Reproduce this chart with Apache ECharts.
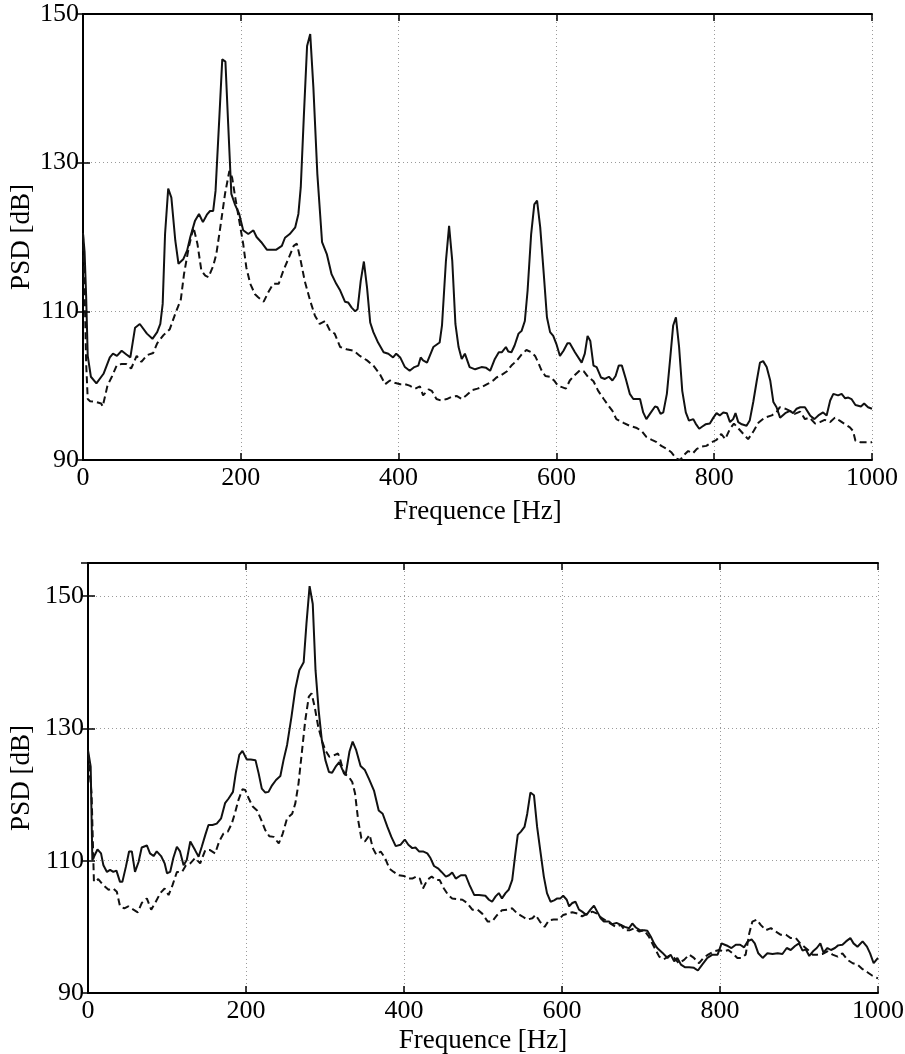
<!DOCTYPE html>
<html>
<head>
<meta charset="utf-8">
<title>PSD</title>
<script src="https://cdn.jsdelivr.net/npm/echarts@6/dist/echarts.min.js"></script>
<style>
    html, body { margin: 0; padding: 0; background: #fff; }
    #chart { width: 905px; height: 1054px; }
</style>
</head>
<body>
<div id="chart"></div>
<script>
/*==================== 数据 ====================*/
// 上图 - 实线
var topSolidF = [0, 2, 4, 6, 10, 17, 26, 34, 38, 43, 49, 55, 60, 66, 72, 81, 88, 94, 98, 101, 104, 108, 112, 117, 121, 127, 132, 136, 142, 147, 152, 157, 161, 165, 168, 173, 176.5, 180.5, 184, 188, 192.5, 198, 203, 209.5, 216, 220, 226, 233, 239, 245, 252, 256, 262, 269, 273, 276, 280, 284, 288, 292, 297, 303, 309, 315, 321, 326, 332, 336, 340.5, 345, 348, 352, 356, 360, 364, 368, 374, 381, 387, 393, 397, 402, 408, 414, 420, 425, 428, 431, 436, 444, 452, 455, 460, 464, 468, 472, 476, 480, 484, 490, 497, 505, 511, 516, 522, 527, 531, 536, 539, 543, 547, 552, 556, 560, 563.5, 568, 572, 575.5, 579.5, 584, 588, 592, 596, 600, 604.5, 609, 614, 617, 623.5, 632, 636, 639.5, 643, 647, 651, 656.5, 661.5, 666.5, 671, 675, 679, 683, 688, 693, 697.5, 706, 710, 714, 718.5, 725, 728, 732, 735.5, 740, 744, 748, 751.5, 755.5, 759.5, 764, 768, 773.5, 776.5, 781, 785, 789, 794.5, 799, 803, 807, 811.5, 816, 820, 824, 827, 830.5, 835, 841, 845, 849.5, 854, 858, 862, 866.5, 871, 875, 879, 883.5, 890, 896, 900, 904.5, 909, 915, 921.5, 927, 932, 938, 942.5, 947, 951, 957, 961.5, 966, 970, 974, 979, 986, 990, 995, 1000];
var topSolidDb = [120.5, 118, 112, 104, 101.2, 100.3, 101.6, 103.8, 104.3, 104, 104.7, 104.2, 103.8, 107.8, 108.3, 107, 106.3, 107.2, 108.3, 111, 120.4, 126.5, 125.3, 119.5, 116.4, 117, 118.2, 120, 122.2, 123.1, 122, 123, 123.5, 123.5, 126.2, 136.5, 143.9, 143.6, 135.2, 125.8, 124.4, 123.1, 120.9, 120.4, 120.9, 120, 119.3, 118.3, 118.3, 118.3, 118.8, 119.9, 120.4, 121.3, 123.1, 126.7, 136.5, 145.7, 147.3, 140.1, 128.5, 119.3, 117.7, 115, 113.7, 112.8, 111.3, 111.2, 110.5, 110, 110.3, 114.1, 116.7, 113.2, 108.5, 107.2, 105.8, 104.5, 104.3, 103.8, 104.3, 103.8, 102.5, 102, 102.5, 102.7, 103.8, 103.4, 103.1, 105.2, 105.8, 108.1, 116.8, 121.5, 116.8, 108.3, 105.2, 103.6, 104.3, 102.5, 102.2, 102.5, 102.4, 102, 103.6, 104.5, 104.5, 105.2, 104.6, 104.5, 105.4, 107, 107.4, 108.7, 112.8, 120.4, 124.4, 124.9, 121.3, 115, 109.2, 107.2, 106.7, 105.6, 104, 104.7, 105.7, 105.7, 104.5, 103.1, 104.3, 106.7, 106, 102.7, 102.5, 101.1, 100.9, 101.2, 100.7, 101.3, 102.7, 102.7, 100.9, 98.9, 98.2, 98.2, 96.4, 95.5, 96.2, 97.2, 97.1, 96.2, 96.4, 98.9, 103.4, 108.1, 109.2, 105.2, 99.3, 96.4, 95.3, 95.5, 94.9, 94.2, 94.5, 94.8, 94.9, 95.7, 96.3, 96, 96.4, 96.3, 95.1, 95.5, 96.3, 95.1, 94.8, 94.6, 95.3, 97.8, 100.7, 103.1, 103.3, 102.5, 100.7, 97.8, 97.1, 95.7, 96.3, 96.6, 96.3, 96.9, 97.1, 97.1, 96, 95.5, 96, 96.4, 96, 98, 98.9, 98.7, 98.9, 98.3, 98.4, 98.2, 97.4, 97.2, 97.6, 97.1, 96.9];

// 上图 - 虚线
var topDashF = [0, 2, 4, 6, 9, 17, 23, 25, 31, 37, 43, 49, 55, 61, 68, 74, 81, 89, 94, 102, 110, 117, 124, 128, 134, 140, 145, 150, 155, 159, 165, 169, 174, 180, 185.5, 189, 193, 198, 203, 207, 212, 218, 222, 229, 235, 241, 248, 254, 260, 267, 271, 275, 281, 288, 294, 300, 307, 313, 319, 326, 334, 343, 351, 360, 368, 376, 383, 389, 395, 402, 408, 414, 421, 427, 431, 438, 442, 448, 454, 461, 467, 474, 480, 486, 493, 500, 505, 514, 520, 524, 530, 537, 543, 550, 556, 562, 568, 573, 577, 581, 586, 592, 597, 602, 607, 612, 617, 623, 630, 635, 640, 647, 653, 660, 666, 671, 676, 685, 693, 702, 708, 714, 721, 727, 733, 740, 746, 752, 757, 761, 767, 773, 778, 784, 790, 797, 803, 809, 814, 820, 825, 831, 837, 843, 850, 856, 864, 873, 879, 883, 890, 896, 902, 909, 915, 921, 928, 934, 940, 947, 953, 959, 966, 972, 976, 979, 985, 991, 1000];
var topDashDb = [120.5, 113, 103, 98.2, 97.9, 97.8, 97.6, 97.2, 100, 101.3, 102.8, 102.9, 102.9, 102.3, 104, 103.2, 104.1, 104.4, 105.7, 106.8, 107.6, 109.7, 111.6, 115, 118.6, 121.3, 119.1, 115.5, 114.8, 114.6, 116.1, 117.7, 121.3, 125.8, 128.9, 128, 125.3, 122.2, 119.1, 115.9, 113.7, 112.3, 111.9, 111.3, 112.6, 113.7, 113.7, 115.5, 117, 118.8, 119.1, 117.3, 114.1, 111.4, 109.4, 108.3, 108.7, 107.4, 107, 105.2, 104.9, 104.7, 104, 103.4, 102.7, 101.6, 100.2, 100.7, 100.4, 100.2, 100.2, 100, 99.6, 99.9, 98.7, 99.5, 99.3, 98.2, 98, 98.2, 98.5, 98.6, 98.2, 98.7, 99.4, 99.6, 99.8, 100.3, 100.7, 101.1, 101.4, 101.9, 102.7, 103.4, 104.2, 104.8, 104.5, 104, 103.1, 102.1, 101.3, 101.2, 100.7, 100, 99.8, 99.6, 100.7, 101.4, 102.1, 101.9, 101.2, 100.6, 99.3, 98.2, 97.3, 96.6, 95.5, 95, 94.6, 94.3, 93.9, 93.1, 92.7, 92.4, 91.9, 91.5, 91, 90.2, 90, 90.6, 91.2, 90.9, 91.5, 91.8, 91.9, 92.4, 92.7, 93.5, 92.8, 94.2, 94.9, 94.2, 93.5, 92.8, 93.9, 95, 95.7, 96, 96.4, 97.1, 96.9, 96.6, 96.2, 96.5, 95.5, 95.7, 94.9, 95.1, 95.4, 95.1, 95.7, 95.3, 94.8, 94.4, 93.9, 92.6, 92.4, 92.4, 92.4];

// 下图 - 实线
var botSolidF = [0, 3.4, 5.5, 8, 12, 16.5, 19.5, 24, 28, 32, 36, 40.5, 43.5, 48, 52, 55.5, 59.5, 64, 68, 74.5, 78.5, 83, 87, 92.5, 97, 100, 104, 108, 112.5, 116.5, 121, 125, 129.5, 132, 135.5, 140, 144, 148.5, 152.5, 157.5, 163, 168.5, 173.5, 178, 183.5, 187, 191.5, 195.5, 201, 206, 212, 216, 220, 224.5, 228.5, 233, 238, 243.5, 247.5, 252, 257.5, 262.5, 267.5, 273, 276.5, 280.5, 284.5, 288, 292, 296, 300.5, 305, 309, 314, 318, 321.5, 326, 331, 335, 339.5, 345, 350.5, 355.5, 362, 368, 373, 379, 384, 389.5, 395.5, 401, 405.5, 410.5, 414.5, 419, 424, 429.5, 433.5, 438, 443.5, 447.5, 453, 457, 461, 465.5, 472, 478, 483, 489, 495, 503, 507.5, 511.5, 516, 520, 524, 528.5, 532.5, 537, 541, 544, 548, 552.5, 556, 560, 564.5, 568.5, 573, 577, 581, 585.5, 590, 594, 598, 601.5, 606, 609, 613, 617, 621.5, 625.5, 631, 636, 640.5, 644.5, 649, 653, 659.5, 663.5, 669, 674.5, 679.5, 685, 689, 693.5, 698.5, 704, 708, 712.5, 716.5, 720.5, 727, 733.5, 737.5, 742, 746, 750.5, 755.5, 761, 767, 772, 777.5, 784, 790.5, 797, 802, 806, 810, 814.5, 820, 825.5, 830.5, 835, 840, 844, 848.5, 854, 860, 866.5, 873, 879, 884.5, 889.5, 895, 900, 904.5, 908.5, 913, 918.5, 922.5, 927, 931, 936, 940.5, 945.5, 949.5, 955, 959.5, 965, 969, 974, 980.5, 986, 990, 994.5, 1000];
var botSolidDb = [126.7, 124.2, 110.1, 109.8, 111.7, 111.1, 109.3, 108.3, 108.6, 108.3, 108.5, 106.8, 106.8, 109.1, 111.4, 111.4, 108.3, 109.8, 112, 112.3, 111.1, 110.7, 111.4, 110.7, 109.6, 108.1, 108.3, 110.4, 112.1, 111.4, 109.3, 110.1, 112.9, 113.2, 111.6, 110.6, 112.1, 113.9, 115.4, 115.4, 115.6, 116.4, 118.7, 119.4, 120.4, 123.2, 126, 126.6, 125.3, 125.3, 125.2, 123.2, 120.9, 120.3, 120.4, 121.4, 122.2, 122.8, 125.2, 127.5, 131.7, 136, 138.8, 140, 145.8, 151.5, 148.8, 138.8, 132.7, 128.2, 125.2, 123.4, 123.3, 124.3, 124.9, 123.9, 122.9, 126.5, 128, 126.7, 124.3, 123.7, 122.4, 120.6, 117.6, 117.1, 115.1, 113.6, 112.2, 112.4, 113.2, 112.4, 111.9, 112, 111.4, 111.4, 111.1, 110.4, 109.2, 108.8, 108.3, 107.6, 107.8, 108.2, 107.3, 107.8, 107.8, 106.3, 104.8, 104.8, 104.7, 104.1, 103.8, 104.6, 105.1, 104.3, 105.1, 105.6, 107.1, 111.1, 113.9, 114.4, 115.1, 117.1, 120.3, 119.9, 115.1, 111.1, 107.6, 105.1, 103.8, 104, 104.3, 104.3, 104.7, 104.1, 103.1, 103.6, 103.8, 102.6, 102.3, 101.8, 102.6, 103.2, 102.3, 101.3, 100.8, 100.8, 100.4, 100.6, 100.3, 100, 99.8, 100.5, 99.9, 99.5, 99.5, 99.4, 98.5, 97.5, 96.8, 96.1, 95.3, 95.8, 94.8, 95.3, 94.3, 93.9, 93.9, 93.8, 93.4, 94.3, 95.3, 95.8, 95.8, 97.5, 97.3, 97.1, 96.8, 97.3, 97.3, 96.9, 97.8, 98.1, 97.5, 96, 95.3, 96, 95.9, 96, 95.9, 96.8, 96.5, 97.1, 97.5, 96.4, 96.6, 95.6, 96.4, 96.8, 97.5, 96.1, 96.8, 96.5, 96.8, 97.2, 97.3, 97.8, 98.3, 97.5, 97, 97.8, 97, 96, 94.5, 95.3];

// 下图 - 虚线
var botDashF = [0, 4.5, 7.5, 13, 19.5, 26, 32, 36.5, 40.5, 46, 51, 57.5, 63, 68, 74.5, 80, 85, 91.5, 97, 102, 107, 112.5, 119, 124, 129.5, 135.5, 142, 148.5, 154.5, 161, 166, 171.5, 177, 182, 186.5, 190.5, 195.5, 199, 203.5, 208.5, 214, 219.5, 224.5, 229.5, 235, 241.5, 246.5, 252, 258.5, 262.5, 266.5, 271, 275, 279.5, 283, 287, 291.5, 296.5, 300.5, 305.5, 311, 316.5, 319.5, 324, 330, 334.5, 338, 342, 346, 350.5, 356.5, 360.5, 365, 370.5, 376, 381.5, 387, 393.5, 400, 405.5, 410.5, 415.5, 420, 424, 429.5, 435, 440, 445, 450.5, 456, 461, 467.5, 474, 480, 486.5, 493, 499, 506, 511.5, 518, 524, 530.5, 537, 543.5, 549.5, 556, 562.5, 566.5, 572, 578, 583.5, 589.5, 596, 601.5, 607.5, 613, 619.5, 625.5, 632, 638.5, 644.5, 649.5, 655, 661.5, 668, 674.5, 679.5, 686, 692, 697.5, 704, 710, 716.5, 723, 729, 735.5, 742, 748, 754.5, 761, 767, 773.5, 779, 785, 792.5, 799, 804.5, 810.5, 816, 822, 827, 832.5, 837, 841, 846.5, 851.5, 858, 864.5, 870.5, 877, 883.5, 889.5, 896, 901.5, 906.5, 911.5, 917, 923.5, 930, 936, 942.5, 949, 955, 961.5, 968, 974, 980.5, 987, 993, 1000];
var botDashDb = [126.2, 120.2, 106.8, 107.2, 106.3, 105.6, 105.8, 105.3, 103.1, 102.8, 103.1, 102.6, 102.2, 103.6, 104.3, 102.6, 103.6, 105.1, 105.8, 104.8, 106.3, 108.3, 108.3, 109.3, 109.6, 110.4, 109.6, 111.6, 111.6, 111.1, 112.9, 114.1, 114.4, 115.6, 117.4, 119.2, 120.8, 120.7, 119.4, 118.2, 117.6, 116.1, 114.6, 113.7, 113.6, 112.6, 114.1, 116.4, 117.1, 118.7, 121.7, 126.7, 131.2, 134.8, 135.3, 133.2, 130.2, 128, 126.7, 125.7, 125.9, 126.2, 125.2, 123.2, 122.7, 121.9, 120.2, 116.1, 113.4, 112.9, 113.9, 111.9, 110.9, 111.4, 110.4, 108.8, 108.3, 107.8, 107.7, 107.3, 107.3, 107.6, 107.3, 105.8, 107.1, 107.6, 107.1, 107.1, 105.8, 104.8, 104.3, 104.2, 104.1, 103.6, 102.6, 102.6, 102, 100.8, 100.8, 101.8, 102.5, 102.6, 102.8, 102, 101.6, 101.1, 101.3, 101.8, 100.8, 100, 101, 101.1, 101.1, 101.8, 102, 102.2, 102, 101.6, 102, 102.3, 102, 101.4, 101, 100.5, 100, 100.3, 99.5, 99.5, 99.8, 99.3, 99.5, 98.5, 97, 95.5, 95.1, 95.6, 95.3, 94.5, 95, 95.8, 95.3, 94.5, 95.3, 95.8, 96.3, 96.5, 96.3, 96.5, 96, 95.3, 95.3, 95.8, 99, 100.8, 101.1, 100.3, 99.5, 99.8, 99.3, 98.8, 98.8, 98.3, 98.3, 97.5, 97, 96.5, 95.8, 95.8, 95.9, 96.3, 95.8, 95.5, 96, 95, 94.5, 94.3, 93.6, 93.1, 92.6, 92.2];

// 刻度
var xTicks = [0, 200, 400, 600, 800, 1000];
var yTicks = [90, 110, 130, 150];

/*==================== 工具函数 ====================*/
function zip(fs, vs) {
    var out = [];
    for (var i = 0; i < fs.length; i++) {
        out.push([fs[i], vs[i]]);
    }
    return out;
}

var FONT = 'Liberation Serif';
var BLACK = '#000';
var plain = function (v) { return String(v); }; // 不要千位分隔符

// 底部 / 左侧 主轴
function mainX(gi) {
    return {
        gridIndex: gi,
        type: 'value',
        position: 'bottom',
        min: xTicks[0],
        max: xTicks[xTicks.length - 1],
        interval: xTicks[1] - xTicks[0],
        name: 'Frequence [Hz]',
        nameLocation: 'middle',
        nameGap: gi === 0 ? 38 : 34,
        nameMoveOverlap: false,
        nameTextStyle: { fontFamily: FONT, fontSize: 27, color: BLACK },
        axisLine: { lineStyle: { color: BLACK, width: 2 } },
        axisTick: { inside: true, length: 7, lineStyle: { color: BLACK, width: 1.5 } },
        axisLabel: { fontFamily: FONT, fontSize: 26, color: BLACK, margin: 5, formatter: plain },
        splitLine: { show: true, lineStyle: { color: '#9a9a9a', width: 1, type: [1, 3] } }
    };
}
function mainY(gi, max) {
    return {
        gridIndex: gi,
        type: 'value',
        position: 'left',
        min: yTicks[0],
        max: max,
        interval: yTicks[1] - yTicks[0],
        name: 'PSD [dB]',
        nameLocation: 'middle',
        nameGap: gi === 0 ? 48 : 53,
        nameMoveOverlap: false, // 名称位置只由 nameGap 决定
        nameTextStyle: { fontFamily: FONT, fontSize: 27, color: BLACK },
        axisLine: { lineStyle: { color: BLACK, width: 2 } },
        axisTick: { inside: true, length: 7, lineStyle: { color: BLACK, width: 1.5 } },
        axisLabel: { fontFamily: FONT, fontSize: 26, color: BLACK, margin: 4, formatter: plain, showMaxLabel: max === 150 },
        splitLine: { show: true, lineStyle: { color: '#9a9a9a', width: 1, type: [1, 3] } }
    };
}
// 顶部 / 右侧 只画框和刻度
function boxX(gi) {
    return {
        gridIndex: gi, type: 'value', position: 'top',
        min: xTicks[0], max: xTicks[xTicks.length - 1], interval: xTicks[1] - xTicks[0],
        axisLine: { show: true, lineStyle: { color: BLACK, width: 2 } },
        axisTick: { inside: true, length: 7, lineStyle: { color: BLACK, width: 1.5 } },
        axisLabel: { show: false },
        splitLine: { show: false }
    };
}
function boxY(gi, max) {
    return {
        gridIndex: gi, type: 'value', position: 'right',
        min: yTicks[0], max: max, interval: yTicks[1] - yTicks[0],
        axisLine: { show: true, lineStyle: { color: BLACK, width: 2 } },
        axisTick: { inside: true, length: 7, lineStyle: { color: BLACK, width: 1.5 } },
        axisLabel: { show: false },
        splitLine: { show: false }
    };
}
function lineSeries(xi, yi, data, dashed) {
    return {
        type: 'line',
        xAxisIndex: xi,
        yAxisIndex: yi,
        data: data,
        symbol: 'none',
        silent: true,
        lineStyle: { color: '#111', width: 2, type: dashed ? [7, 4] : 'solid' }
    };
}

/*==================== echart ====================*/
var myChart = echarts.init(document.getElementById('chart'), null, { renderer: 'canvas' });
var option = {
    animation: false,
    backgroundColor: '#fff',
    grid: [
        // 固定像素位置，不让标签挤动绘图区
        { left: 83, top: 14, width: 789, height: 446, containLabel: false, outerBoundsMode: 'none' },
        { left: 88, top: 563, width: 790, height: 430, containLabel: false, outerBoundsMode: 'none' }
    ],
    xAxis: [mainX(0), boxX(0), mainX(1), boxX(1)],
    yAxis: [mainY(0, 150), boxY(0, 150), mainY(1, 155), boxY(1, 155)],
    series: [
        lineSeries(0, 0, zip(topSolidF, topSolidDb), false),
        lineSeries(0, 0, zip(topDashF, topDashDb), true),
        lineSeries(2, 2, zip(botSolidF, botSolidDb), false),
        lineSeries(2, 2, zip(botDashF, botDashDb), true)
    ]
};
myChart.setOption(option);
</script>
</body>
</html>
